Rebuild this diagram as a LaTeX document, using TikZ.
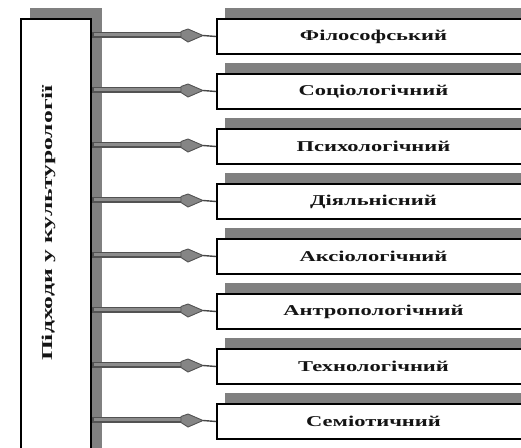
\documentclass[tikz,border=0pt]{standalone}
\usepackage{fontspec}
\setmainfont{Liberation Serif}
\usetikzlibrary{backgrounds}
\newcommand{\widetxt}[1]{\scalebox{1.5}[1]{#1}}
\newcommand{\tallertxt}[1]{\scalebox{1.71}[1]{#1}}
\tikzset{
  approach/.style={draw=black, line width=2pt, fill=white, minimum width=313pt,
    minimum height=35pt, inner sep=0pt, text=black!92,
    font=\fontsize{15}{15}\selectfont\bfseries},
  rootbox/.style={draw=black, line width=2.4pt, fill=white, minimum width=70pt,
    minimum height=450pt, inner sep=0pt},
  rootlab/.style={rotate=90, inner sep=0pt, text=black!92,
    font=\fontsize{15}{15}\selectfont\bfseries},
  shadowfill/.style={fill=black!50},
  band/.style={draw=black!68, line width=6pt},
  bandcore/.style={draw=black!45, line width=3.2pt},
  headstyle/.style={fill=black!48, draw=black!68, line width=0.9pt},
  tipline/.style={draw=black!72, line width=1.4pt},
}
\begin{document}
\begin{tikzpicture}[x=1pt, y=-1pt]
  \useasboundingbox (0,0) rectangle (521,447);
  % left box
  \node[rootbox, anchor=north west] (root) at (20,18) {};
  \node[rootlab] (rootlabel) at (48.5,223) {\tallertxt{Підходи у культурології}};
  % right boxes
  \foreach \t [count=\i] in {Філософський, Соціологічний, Психологічний, Діяльнісний,
      Аксіологічний, Антропологічний, Технологічний, Семіотичний}{
    \node[approach] (b\i) at (373.5, {36.5+55*(\i-1)}) {\widetxt{\t}};
  }
  \begin{scope}[on background layer]
    \fill[shadowfill] ([shift={(10,-10)}]root.south west) rectangle ([shift={(10,-10)}]root.north east);
    \foreach \i in {1,...,8}{
      \fill[shadowfill] ([shift={(9,-10)}]b\i.south west) rectangle ([shift={(9,-10)}]b\i.north east);
    }
  \end{scope}
  % connectors
  \foreach \i in {1,...,8}{
    \draw[band] ([yshift=2pt]root.east |- b\i.west) -- ([xshift=-31pt,yshift=2pt]b\i.west);
    \draw[bandcore] ([xshift=1.5pt,yshift=2pt]root.east |- b\i.west) -- ([xshift=-31pt,yshift=2pt]b\i.west);
    \filldraw[headstyle] ([xshift=-35pt,yshift=5pt]b\i.west) -- ([xshift=-28pt,yshift=7.5pt]b\i.west)
      -- ([xshift=-13pt,yshift=1pt]b\i.west) -- ([xshift=-28pt,yshift=-5.5pt]b\i.west)
      -- ([xshift=-35pt,yshift=-1pt]b\i.west) -- cycle;
    \draw[tipline] ([xshift=-13pt,yshift=1pt]b\i.west) -- (b\i.west);
  }
\end{tikzpicture}
\end{document}
